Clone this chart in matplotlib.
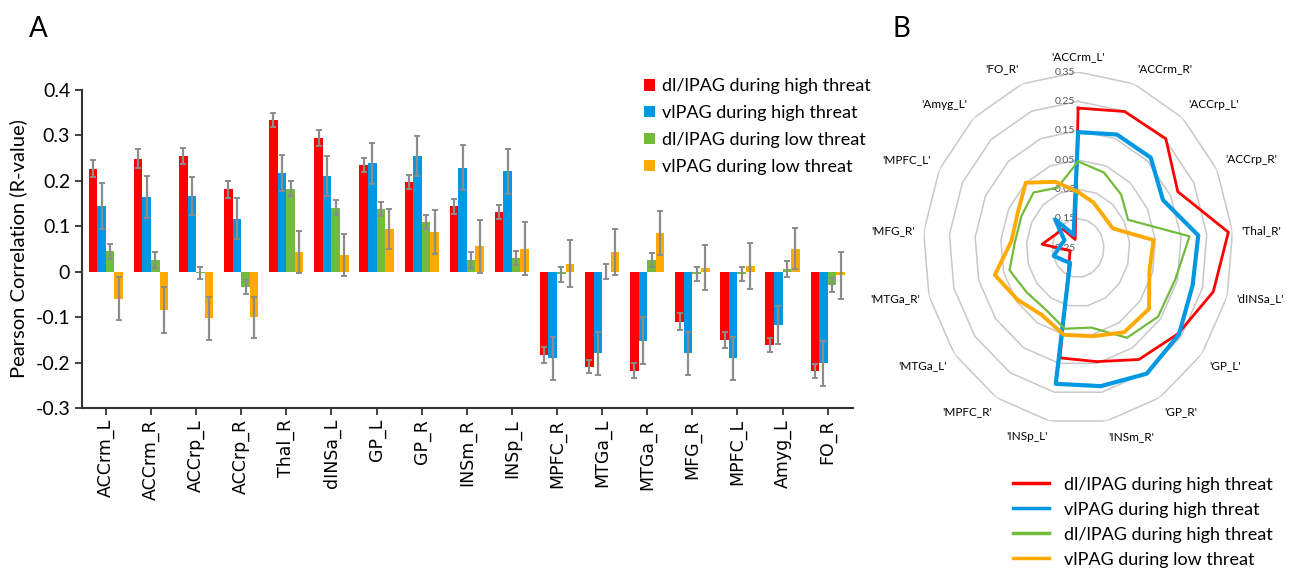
import numpy as np
import matplotlib
matplotlib.use('Agg')
import matplotlib.pyplot as plt
from matplotlib.lines import Line2D
from matplotlib import transforms

plt.rcParams['font.family'] = ['Lato', 'DejaVu Sans']

regions = ['ACCrm_L', 'ACCrm_R', 'ACCrp_L', 'ACCrp_R', 'Thal_R', 'dINSa_L', 'GP_L', 'GP_R',
           'INSm_R', 'INSp_L', 'MPFC_R', 'MTGa_L', 'MTGa_R', 'MFG_R', 'MPFC_L', 'Amyg_L', 'FO_R']

dl_high = [0.227, 0.249, 0.254, 0.181, 0.334, 0.294, 0.235, 0.197, 0.144, 0.131,
           -0.183, -0.209, -0.218, -0.110, -0.150, -0.162, -0.219]
vl_high = [0.145, 0.165, 0.167, 0.117, 0.217, 0.211, 0.239, 0.254, 0.229, 0.221,
           -0.191, -0.180, -0.152, -0.180, -0.191, -0.118, -0.202]
dl_low = [0.045, 0.026, -0.003, -0.034, 0.183, 0.141, 0.138, 0.110, 0.026, 0.030,
          -0.006, 0.000, 0.026, -0.005, -0.005, 0.006, -0.029]
vl_low = [-0.059, -0.084, -0.103, -0.100, 0.043, 0.037, 0.094, 0.088, 0.056, 0.051,
          0.018, 0.043, 0.085, 0.009, 0.012, 0.051, -0.008]

err_dl_high = [0.018, 0.020, 0.018, 0.018, 0.015, 0.017, 0.015, 0.016, 0.016, 0.016,
               0.018, 0.015, 0.017, 0.018, 0.018, 0.015, 0.016]
err_vl_high = [0.050, 0.046, 0.042, 0.046, 0.039, 0.044, 0.045, 0.044, 0.050, 0.049,
               0.047, 0.047, 0.052, 0.047, 0.047, 0.042, 0.049]
err_dl_low = [0.017, 0.018, 0.013, 0.016, 0.016, 0.017, 0.015, 0.015, 0.017, 0.016,
              0.016, 0.017, 0.015, 0.015, 0.015, 0.017, 0.016]
err_vl_low = [0.048, 0.050, 0.047, 0.045, 0.046, 0.047, 0.045, 0.048, 0.058, 0.059,
              0.051, 0.050, 0.049, 0.050, 0.051, 0.046, 0.051]

bar_labels = ['dl/lPAG during high threat', 'vlPAG during high threat',
              'dl/lPAG during low threat', 'vlPAG during low threat']
radar_labels = ['dl/lPAG during high threat', 'vlPAG during high threat',
                'dl/lPAG during high threat', 'vlPAG during low threat']
colors = ['#ff0000', '#0098e2', '#72bb3c', '#ffaa00']

series = [dl_high, vl_high, dl_low, vl_low]
errors = [err_dl_high, err_vl_high, err_dl_low, err_vl_low]

fig = plt.figure(figsize=(12.93, 5.71), dpi=100)

# ---- panel A: grouped bars
ax = fig.add_axes([0.0634, 0.2855, 0.5963, 0.5569])
x = np.arange(len(regions))
w = 0.19
for i, (vals, err, c, lab) in enumerate(zip(series, errors, colors, bar_labels)):
    ax.bar(x + (i - 1.5) * w, vals, w, color=c, label=lab, zorder=2)
    ax.errorbar(x + (i - 1.5) * w, vals, yerr=err, fmt='none', ecolor='#8c8c8c',
                elinewidth=1.6, capsize=2.5, capthick=1.4, zorder=3)

ax.set_xlim(-0.53, 16.56)
ax.set_ylim(-0.3, 0.4)
ax.set_yticks(np.arange(-0.3, 0.41, 0.1))
ax.set_yticklabels(['-0.3', '-0.2', '-0.1', '0', '0.1', '0.2', '0.3', '0.4'], fontsize=14)
ax.set_xticks(x)
ax.set_xticklabels(regions, rotation=90, fontsize=12.5, family='DejaVu Sans')
ax.tick_params(axis='both', length=5, width=1.3, color='#333333')
ax.tick_params(axis='x', pad=3)
for s in ['top', 'right']:
    ax.spines[s].set_visible(False)
for s in ['left', 'bottom']:
    ax.spines[s].set_linewidth(1.5)
    ax.spines[s].set_color('#333333')
ax.set_ylabel('Pearson Correlation (R-value)', fontsize=14.5, labelpad=6)
ax.legend(loc='upper left', bbox_to_anchor=(0.72, 1.06), frameon=False, fontsize=13,
          handlelength=0.6, handleheight=0.6, handletextpad=0.4, labelspacing=0.6,
          borderaxespad=0)

fig.text(0.022, 0.935, 'A', fontsize=20)
fig.text(0.69, 0.935, 'B', fontsize=20)

# ---- panel B: radar
rax = fig.add_axes([0.7139, 0.2574, 0.2398, 0.6165], projection='polar')
rax.set_theta_zero_location('N')
rax.set_theta_direction(-1)
rax.set_ylim(-0.25, 0.35)
rax.set_aspect('auto')
rax.grid(False)
rax.spines['polar'].set_visible(False)
rax.set_xticks([])
rax.set_yticks([])

n = len(regions)
theta = np.arange(n) * 2 * np.pi / n
theta_c = np.append(theta, theta[0])
levels = [-0.15, -0.05, 0.05, 0.15, 0.25, 0.35]
for lv in levels:
    rax.plot(theta_c, [lv] * (n + 1), color='#c8c8c8', lw=1.1, zorder=1)

widths = [2.0, 3.0, 1.6, 2.8]
for vals, c, lw in zip(series, colors, widths):
    rax.plot(theta_c, list(vals) + [vals[0]], color=c, lw=lw, zorder=3)

off = transforms.offset_copy(rax.transData, fig=fig, x=-3, y=0, units='dots')
for lv in levels + [-0.25]:
    rax.text(0, lv, f'{lv:.2f}', transform=off, ha='right', va='center',
             fontsize=7.5, color='#555555', zorder=2)

for t, name in zip(theta, regions):
    s, c = np.sin(t), np.cos(t)
    ha = 'left' if s > 0.15 else ('right' if s < -0.15 else 'center')
    va = 'bottom' if c > 0.3 else ('top' if c < -0.3 else 'center')
    rax.text(t, 0.385, f"'{name}'", ha=ha, va=va, fontsize=8.5, clip_on=False)

handles = [Line2D([0], [0], color=c, lw=2.5) for c in colors]
fig.legend(handles, radar_labels, loc='upper left', bbox_to_anchor=(0.778, 0.178),
           frameon=False, fontsize=13, handlelength=2.0, handletextpad=0.8,
           labelspacing=0.5, borderaxespad=0)

fig.savefig('out.png', dpi=100)
